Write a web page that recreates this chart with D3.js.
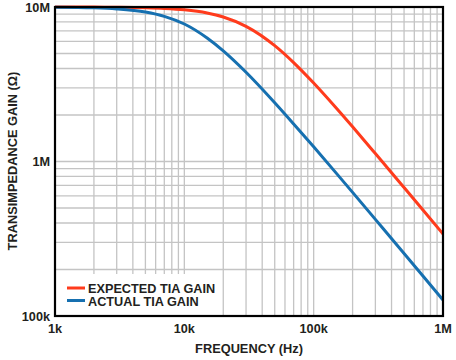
<!DOCTYPE html>
<html><head><meta charset="utf-8">
<script src="https://cdn.jsdelivr.net/npm/d3@7"></script>
<style>body{margin:0;background:#fff}svg{display:block}text{font-family:"Liberation Sans",Arial,sans-serif;font-weight:bold;fill:#231f20}</style>
</head><body>
<script>
const freqs = [1e3,2e3,3e3,5e3,7e3,1e4,1.5e4,2e4,3e4,5e4,7e4,1e5,1.5e5,2e5,3e5,5e5,7e5,1e6];
const expectedGain = [9.996e6,9.983e6,9.961e6,9.894e6,9.795e6,9.593e6,9.149e6,8.618e6,7.498e6,5.623e6,4.369e6,3.219e6,2.210e6,1.676e6,1.126e6,6.785e5,4.853e5,3.398e5];
const actualGain = [9.969e6,9.878e6,9.72e6,9.28e6,8.70e6,7.76e6,6.30e6,5.20e6,3.78e6,2.40e6,1.75e6,1.245e6,8.38e5,6.31e5,4.22e5,2.54e5,1.814e5,1.27e5];
const xTickLabels = ["1k","10k","100k","1M"];
const yTickLabels = ["100k","1M","10M"];
const seriesNames = ["EXPECTED TIA GAIN","ACTUAL TIA GAIN"];
const colors = ["#ff3b1c","#1670b0"];

const W=456,H=360, L=55, R=443, T=7, B=316;
const svg=d3.select("body").append("svg").attr("width",W).attr("height",H);
const x=d3.scaleLog().domain([1e3,1e6]).range([L,R]);
const y=d3.scaleLog().domain([1e5,1e7]).range([B,T]);

// grid
const xg=[],yg=[];
for(let d=1e3;d<1e6;d*=10) for(let k=1;k<10;k++) if(!(d===1e3&&k===1)) xg.push(d*k);
for(let d=1e5;d<1e7;d*=10) for(let k=1;k<10;k++) if(!(d===1e5&&k===1)) yg.push(d*k);
const g=svg.append("g");
g.selectAll(".vx").data(xg).enter().append("line").attr("x1",d=>x(d)).attr("x2",d=>x(d)).attr("y1",T).attr("y2",B).attr("stroke","#c4c4c4").attr("stroke-width",1.3);
g.selectAll(".hy").data(yg).enter().append("line").attr("y1",d=>y(d)).attr("y2",d=>y(d)).attr("x1",L).attr("x2",R).attr("stroke","#c4c4c4").attr("stroke-width",1.3);

// legend background
svg.append("rect").attr("x",L+1).attr("y",274).attr("width",165).attr("height",B-274-1).attr("fill","#fff");

// curves
const line=d3.line().x(d=>x(d[0])).y(d=>y(d[1])).curve(d3.curveMonotoneX);
[expectedGain,actualGain].forEach((s,i)=>{
  svg.append("path").datum(freqs.map((f,j)=>[f,s[j]])).attr("d",line).attr("fill","none").attr("stroke",colors[i]).attr("stroke-width",3);
});

// frame
svg.append("rect").attr("x",L).attr("y",T).attr("width",R-L).attr("height",B-T).attr("fill","none").attr("stroke","#000").attr("stroke-width",2.2);

// ticks
const xt=[1e3,1e4,1e5,1e6];
svg.selectAll(".xt").data(xt).enter().append("text").attr("x",d=>x(d)).attr("y",333).attr("text-anchor","middle").attr("font-size",12.7).text((d,i)=>xTickLabels[i]);
const yt=[1e5,1e6,1e7];
svg.selectAll(".yt").data(yt).enter().append("text").attr("x",50).attr("y",d=>y(d)+4.5).attr("text-anchor","end").attr("font-size",12.7).text((d,i)=>yTickLabels[i]);

// titles
svg.append("text").attr("x",249).attr("y",353).attr("text-anchor","middle").attr("font-size",12.8).text("FREQUENCY (Hz)");
svg.append("text").attr("transform","translate(16.5,161) rotate(-90)").attr("text-anchor","middle").attr("font-size",12.8).text("TRANSIMPEDANCE GAIN (Ω)");

// legend
seriesNames.forEach((n,i)=>{
  const yy=288+i*12.5;
  svg.append("line").attr("x1",67).attr("x2",85).attr("y1",yy).attr("y2",yy).attr("stroke",colors[i]).attr("stroke-width",3);
  svg.append("text").attr("x",88).attr("y",yy+5).attr("font-size",12.7).text(n);
});
</script>
</body></html>
